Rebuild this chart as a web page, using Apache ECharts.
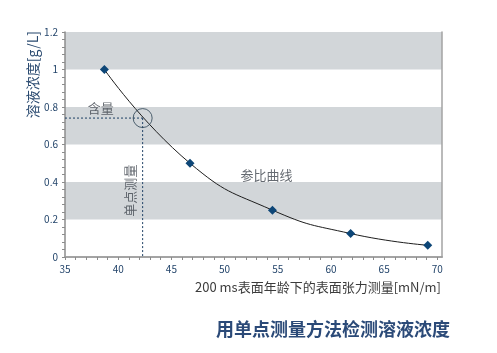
<!DOCTYPE html>
<html>
<head>
<meta charset="utf-8">
<script src="https://cdn.jsdelivr.net/npm/echarts@6/dist/echarts.min.js"></script>
<style>html,body{margin:0;padding:0;background:#fff}#c{width:497px;height:353px}</style>
</head>
<body>
<div id="c"></div>
<script>
// ---- data ----
const pointX = [38.7, 46.75, 54.5, 61.85, 69.1];
const pointY = [1.0, 0.5, 0.25, 0.125, 0.0625];
const measureX = 42.3;      // single point measurement (surface tension)
const measureY = 0.741;     // resulting content
const xLabelValues = [35, 40, 45, 50, 55, 60, 65, 70];
const xTickValues = [35,36,37,38,39,40,41,42,43,44,45,46,47,48,49,50,51,52,53,54,55,56,57,58,59,60,61,62,63,64,65,66,67,68,69,70];
const annotTexts = ['含量', '单点测量', '参比曲线'];
const annotX = [38.36, 41.1, 53.95];
const annotY = [0.792, 0.354, 0.437];
const annotRotate = [0, 90, 0];
const titleText = '用单点测量方法检测溶液浓度';
const xName = '200 ms表面年龄下的表面张力测量[mN/m]';
const yName = '溶液浓度[g/L]';

const FONT = '"Noto Sans CJK SC", "Noto Sans", sans-serif';
const chart = echarts.init(document.getElementById('c'), null, {renderer: 'canvas'});

const curveData = pointX.map((x, i) => [x, pointY[i]]);
const annotData = annotTexts.map((t, i) => ({
  value: [annotX[i], annotY[i]],
  label: {formatter: t, rotate: annotRotate[i]}
}));

const option = {
  animation: false,
  grid: {left: 65, right: 55, top: 32, bottom: 96, containLabel: false},
  xAxis: [{
    type: 'value', min: 35, max: 70.44,
    axisLine: {show: true, lineStyle: {color: '#8c8c8c', width: 1.5}},
    axisTick: {show: true, length: 3, customValues: xTickValues, lineStyle: {color: '#8c8c8c'}},
    axisLabel: {customValues: xLabelValues, color: '#24456b', fontSize: 10, margin: 7, fontFamily: FONT},
    splitLine: {show: false}
  }, {
    type: 'value', min: 35, max: 70.44, position: 'top',
    axisLine: {show: true, lineStyle: {color: '#a3a3a3', width: 1.5}},
    axisTick: {show: false}, axisLabel: {show: false}, splitLine: {show: false}
  }],
  yAxis: [{
    type: 'value', min: 0, max: 1.2, interval: 0.2,
    axisLine: {show: true, lineStyle: {color: '#8c8c8c', width: 1.5}},
    axisTick: {show: true, length: 3, lineStyle: {color: '#8c8c8c'}},
    minorTick: {show: true, splitNumber: 5, length: 3, lineStyle: {color: '#8c8c8c'}},
    axisLabel: {color: '#24456b', fontSize: 10, margin: 7, fontFamily: FONT,
      formatter: v => (Math.round(v * 10) / 10).toString()},
    splitLine: {show: false},
    splitArea: {show: true, areaStyle: {color: ['#ffffff', '#d2d6d9']}}
  }, {
    type: 'value', min: 0, max: 1.2, interval: 0.2, position: 'right',
    axisLine: {show: true, lineStyle: {color: '#a3a3a3', width: 1.5}},
    axisTick: {show: false}, axisLabel: {show: false}, splitLine: {show: false}
  }],
  series: [{
    type: 'line', data: curveData, smooth: 0.5,
    showSymbol: true, symbol: 'diamond', symbolSize: 9,
    lineStyle: {color: '#1e1e1e', width: 1},
    itemStyle: {color: '#0d4677'},
    z: 3
  }, {
    type: 'line', data: [[35, measureY], [measureX, measureY]],
    showSymbol: false, lineStyle: {color: '#1d3f63', width: 1, type: [2, 2]}, z: 2
  }, {
    type: 'line', data: [[measureX, measureY], [measureX, 0]],
    showSymbol: false, lineStyle: {color: '#1d3f63', width: 1, type: [2, 2]}, z: 2
  }, {
    type: 'scatter', data: [[measureX, measureY]], symbol: 'circle', symbolSize: 19,
    itemStyle: {color: 'rgba(0,0,0,0)', borderColor: '#2b4153', borderWidth: 1}, z: 4
  }, {
    type: 'scatter', data: annotData, symbolSize: 0, silent: true,
    label: {show: true, position: 'inside', color: '#3e454e', fontSize: 13, fontFamily: FONT}
  }],
  graphic: [{
    type: 'text', x: 33, y: 31, rotation: Math.PI / 2,
    style: {text: yName, fill: '#2a4a70', font: '14px ' + FONT, textAlign: 'right', textVerticalAlign: 'middle'}
  }, {
    type: 'text', x: 441, y: 287,
    style: {text: xName, fill: '#3c3c3c', font: '13px ' + FONT, textAlign: 'right', textVerticalAlign: 'middle'}
  }, {
    type: 'text', x: 216, y: 329,
    style: {text: titleText, fill: '#2b4a78', font: 'bold 18px ' + FONT, textAlign: 'left', textVerticalAlign: 'middle'}
  }]
};
chart.setOption(option);
</script>
</body>
</html>
